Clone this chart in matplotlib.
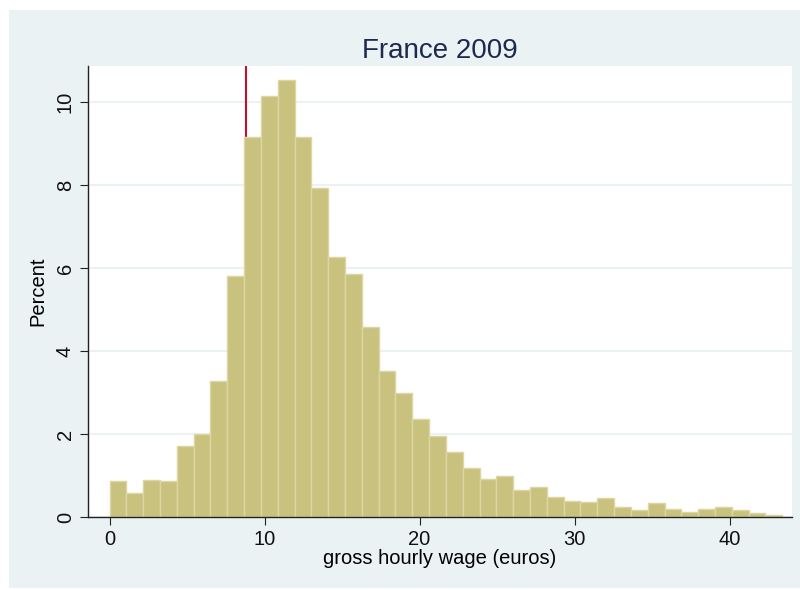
import matplotlib.pyplot as plt
import numpy as np
from matplotlib.patches import Rectangle

plt.rcParams["font.family"] = ["Liberation Sans", "DejaVu Sans"]

# percent of workers per wage bin (40 bins starting at 0)
bin_start = 0.0
bin_width = 1.085
percent = [
    0.87, 0.59, 0.90, 0.87, 1.70, 1.99, 3.28, 5.80, 9.16, 10.14,
    10.54, 9.16, 7.93, 6.27, 5.86, 4.58, 3.52, 2.99, 2.36, 1.96,
    1.56, 1.19, 0.92, 0.99, 0.65, 0.73, 0.47, 0.39, 0.37, 0.45,
    0.24, 0.18, 0.33, 0.19, 0.13, 0.19, 0.23, 0.17, 0.10, 0.05,
]
min_wage = 8.82  # SMIC
xticks = [0, 10, 20, 30, 40]
yticks = [0, 2, 4, 6, 8, 10]

bg = "#eaf2f3"
fig = plt.figure(figsize=(8, 5.9), dpi=100)
fig.patch.set_facecolor("white")
fig.patches.append(Rectangle((9 / 800, 2 / 590), 791 / 800, 578 / 590,
                             transform=fig.transFigure, facecolor=bg,
                             edgecolor="none", zorder=-10))

ax = fig.add_axes([88 / 800, 1 - 517 / 590, 704 / 800, 451 / 590])
ax.set_facecolor("white")

lefts = bin_start + bin_width * np.arange(len(percent))
ax.axvline(min_wage, color="#c8102e", lw=1.5, zorder=1)
ax.bar(lefts, percent, width=bin_width, align="edge",
       color="#c9c27e", edgecolor="#dcd6a2", linewidth=1.0, zorder=2)

ax.set_xlim(-1.39, 44.03)
ax.set_ylim(0, 10.87)
ax.set_xticks(xticks)
ax.set_yticks(yticks)
ax.yaxis.grid(True, color=bg, lw=1.5)
ax.set_axisbelow(True)
for s in ["top", "right"]:
    ax.spines[s].set_visible(False)
for s in ["left", "bottom"]:
    ax.spines[s].set_color("#222222")
    ax.spines[s].set_linewidth(1.0)
ax.tick_params(length=6, color="#222222", labelsize=14.5, labelcolor="#111111")
plt.setp(ax.get_yticklabels(), rotation=90, va="center")

ax.set_title("France 2009", fontsize=20, color="#1c2a50", pad=6)
ax.set_xlabel("gross hourly wage (euros)", fontsize=14.5, labelpad=0)
ax.set_ylabel("Percent", fontsize=14.5, labelpad=6)

fig.savefig("out.png", dpi=100)
